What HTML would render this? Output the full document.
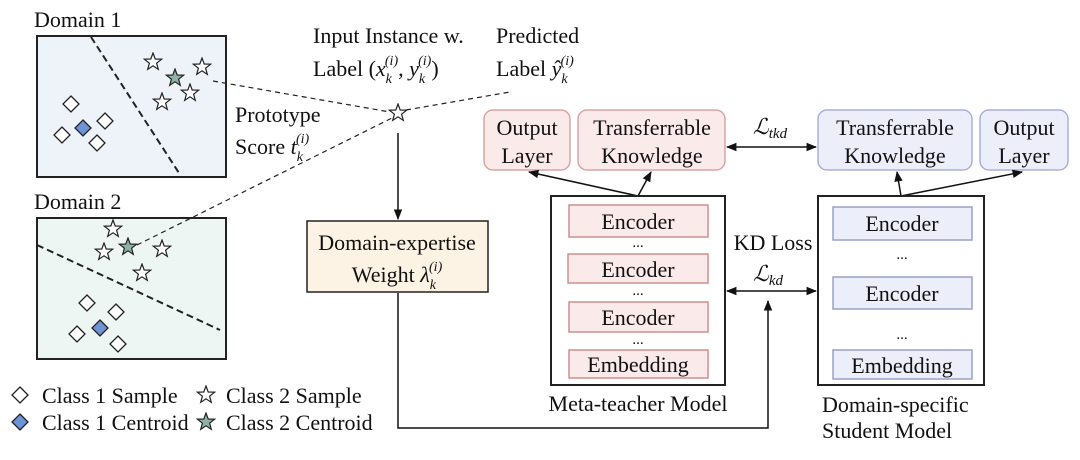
<!DOCTYPE html>
<html><head><meta charset="utf-8"><style>
html,body{margin:0;padding:0;background:#fff;}
svg text{font-family:"Liberation Serif",serif;fill:#111;}
</style></head><body>
<svg width="1080" height="455" viewBox="0 0 1080 455" xmlns="http://www.w3.org/2000/svg">
<defs>
<marker id="a" viewBox="0 0 10 10" refX="9" refY="5" markerWidth="7" markerHeight="7" orient="auto-start-reverse"><path d="M0,1 L10,5 L0,9 z" fill="#111"/></marker>
<symbol id="st" viewBox="-10 -10 20 20"><path d="M0,-9 L2.2,-3 L8.6,-2.8 L3.6,1.2 L5.3,7.4 L0,3.8 L-5.3,7.4 L-3.6,1.2 L-8.6,-2.8 L-2.2,-3 z" stroke="#222" stroke-width="1.2"/></symbol>
<symbol id="di" viewBox="-10 -10 20 20"><path d="M0,-8 L8,0 L0,8 L-8,0 z" stroke="#222" stroke-width="1.3"/></symbol>
</defs>
<text x="34" y="27" font-size="22">Domain 1</text>
<rect x="37" y="36" width="189" height="141" fill="#eef3fa" stroke="#222" stroke-width="2"/>
<line x1="91" y1="37" x2="179" y2="173" stroke="#222" stroke-width="2" stroke-dasharray="7,4"/>
<text x="34" y="209" font-size="22">Domain 2</text>
<rect x="37" y="218" width="189" height="141" fill="#eef6f3" stroke="#222" stroke-width="2"/>
<line x1="37" y1="245" x2="220" y2="330" stroke="#222" stroke-width="2" stroke-dasharray="7,4"/>
<g fill="#fff">
<use href="#st" x="143" y="52" width="20" height="20"/>
<use href="#st" x="192" y="57" width="20" height="20"/>
<use href="#st" x="180" y="83" width="20" height="20"/>
<use href="#st" x="152" y="92" width="20" height="20"/>
<use href="#di" x="61" y="94" width="20" height="20"/>
<use href="#di" x="95" y="111" width="20" height="20"/>
<use href="#di" x="52" y="125" width="20" height="20"/>
<use href="#di" x="87" y="133" width="20" height="20"/>
<use href="#st" x="103" y="219" width="20" height="20"/>
<use href="#st" x="94" y="242" width="20" height="20"/>
<use href="#st" x="152" y="239" width="20" height="20"/>
<use href="#st" x="132" y="263" width="20" height="20"/>
<use href="#di" x="77" y="293" width="20" height="20"/>
<use href="#di" x="106" y="302" width="20" height="20"/>
<use href="#di" x="67" y="324" width="20" height="20"/>
<use href="#di" x="108" y="334" width="20" height="20"/>
<use href="#st" x="388" y="103" width="20" height="20"/>
<use href="#di" x="10" y="385" width="20" height="20"/>
<use href="#st" x="196" y="385" width="20" height="20"/>
</g>
<g fill="#8fb3a3"><use href="#st" x="165" y="68" width="20" height="20"/><use href="#st" x="118" y="237" width="20" height="20"/><use href="#st" x="196" y="412" width="20" height="20"/></g>
<g fill="#6d95d6"><use href="#di" x="73" y="118" width="20" height="20"/><use href="#di" x="90" y="318" width="20" height="20"/><use href="#di" x="10" y="412" width="20" height="20"/></g>
<g stroke="#222" stroke-width="1.2" stroke-dasharray="5,4" fill="none">
<line x1="213" y1="81" x2="390" y2="112"/>
<line x1="137" y1="245" x2="392" y2="118"/>
<line x1="406" y1="110" x2="510" y2="92"/>
</g>
<text x="313" y="43" font-size="22">Input Instance w.</text>
<text x="313" y="76" font-size="22">Label (<tspan font-style="italic">x</tspan><tspan font-size="14" font-style="italic" dy="7">k</tspan><tspan font-size="14" font-style="italic" dx="-7" dy="-18">(i)</tspan><tspan dy="11">, </tspan><tspan font-style="italic">y</tspan><tspan font-size="14" font-style="italic" dy="7">k</tspan><tspan font-size="14" font-style="italic" dx="-7" dy="-18">(i)</tspan><tspan dy="11">)</tspan></text>
<text x="496" y="43" font-size="22">Predicted</text>
<text x="496" y="76" font-size="22">Label <tspan font-style="italic">ŷ</tspan><tspan font-size="14" font-style="italic" dy="7">k</tspan><tspan font-size="14" font-style="italic" dx="-7" dy="-18">(i)</tspan></text>
<text x="235" y="122" font-size="22">Prototype</text>
<text x="235" y="154" font-size="22">Score <tspan font-style="italic">t</tspan><tspan font-size="14" font-style="italic" dy="7">k</tspan><tspan font-size="14" font-style="italic" dx="-7" dy="-18">(i)</tspan></text>
<text x="42" y="403" font-size="22">Class 1 Sample</text>
<text x="226" y="403" font-size="22">Class 2 Sample</text>
<text x="42" y="430" font-size="22">Class 1 Centroid</text>
<text x="226" y="430" font-size="22">Class 2 Centroid</text>
<line x1="398" y1="133" x2="398" y2="219" stroke="#111" stroke-width="1.5" marker-end="url(#a)"/>
<rect x="307" y="221" width="181" height="71" fill="#fcf3e4" stroke="#222" stroke-width="1.5"/>
<text x="397" y="250" font-size="22" text-anchor="middle">Domain-expertise</text>
<text x="397" y="282" font-size="22" text-anchor="middle">Weight <tspan font-style="italic">λ</tspan><tspan font-size="14" font-style="italic" dy="7">k</tspan><tspan font-size="14" font-style="italic" dx="-7" dy="-18">(i)</tspan></text>
<polyline points="398,293 398,428 768,428 768,301" fill="none" stroke="#111" stroke-width="1.5" marker-end="url(#a)"/>
<rect x="484" y="110" width="86" height="60" rx="9" fill="#fbeaea" stroke="#d9a5a5" stroke-width="1.5"/>
<text x="527" y="135" font-size="22" text-anchor="middle">Output</text>
<text x="527" y="163" font-size="22" text-anchor="middle">Layer</text>
<rect x="578" y="110" width="147" height="60" rx="9" fill="#fbeaea" stroke="#d9a5a5" stroke-width="1.5"/>
<text x="652" y="135" font-size="22" text-anchor="middle">Transferrable</text>
<text x="652" y="163" font-size="22" text-anchor="middle">Knowledge</text>
<rect x="818" y="110" width="154" height="60" rx="9" fill="#eceef9" stroke="#aab0d8" stroke-width="1.5"/>
<text x="895" y="135" font-size="22" text-anchor="middle">Transferrable</text>
<text x="895" y="163" font-size="22" text-anchor="middle">Knowledge</text>
<rect x="980" y="110" width="88" height="60" rx="9" fill="#eceef9" stroke="#aab0d8" stroke-width="1.5"/>
<text x="1024" y="135" font-size="22" text-anchor="middle">Output</text>
<text x="1024" y="163" font-size="22" text-anchor="middle">Layer</text>
<text x="770" y="134" font-size="22" font-style="italic" text-anchor="middle">ℒ<tspan font-size="15" dy="4">tkd</tspan></text>
<line x1="727" y1="147" x2="816" y2="147" stroke="#111" stroke-width="1.5" marker-start="url(#a)" marker-end="url(#a)"/>
<g stroke="#111" stroke-width="1.5" marker-end="url(#a)">
<line x1="638" y1="196" x2="529" y2="172"/>
<line x1="638" y1="196" x2="651" y2="172"/>
<line x1="901" y1="196" x2="897" y2="172"/>
<line x1="901" y1="196" x2="1022" y2="172"/>
</g>
<rect x="551" y="196" width="174" height="189" fill="#fff" stroke="#222" stroke-width="2"/>
<g fill="#fbeaea" stroke="#cf8f8f" stroke-width="1.5">
<rect x="569" y="205" width="139" height="32"/><rect x="568" y="254" width="140" height="29"/><rect x="569" y="302" width="139" height="30"/><rect x="569" y="350" width="139" height="28"/>
</g>
<text x="638" y="229" font-size="22" text-anchor="middle">Encoder</text>
<text x="638" y="247" font-size="15" text-anchor="middle">...</text>
<text x="638" y="277" font-size="22" text-anchor="middle">Encoder</text>
<text x="638" y="295" font-size="15" text-anchor="middle">...</text>
<text x="638" y="325" font-size="22" text-anchor="middle">Encoder</text>
<text x="638" y="344" font-size="15" text-anchor="middle">...</text>
<text x="638" y="372" font-size="22" text-anchor="middle">Embedding</text>
<text x="638" y="411" font-size="22" text-anchor="middle">Meta-teacher Model</text>
<text x="773" y="250" font-size="22" text-anchor="middle">KD Loss</text>
<text x="768" y="281" font-size="22" font-style="italic" text-anchor="middle">ℒ<tspan font-size="15" dy="4">kd</tspan></text>
<line x1="727" y1="291" x2="816" y2="291" stroke="#111" stroke-width="1.5" marker-start="url(#a)" marker-end="url(#a)"/>
<rect x="818" y="196" width="166" height="189" fill="#fff" stroke="#222" stroke-width="2"/>
<g fill="#eceef9" stroke="#9aa0c8" stroke-width="1.5">
<rect x="833" y="207" width="139" height="33"/><rect x="833" y="277" width="139" height="32"/><rect x="833" y="350" width="139" height="29"/>
</g>
<text x="902" y="231" font-size="22" text-anchor="middle">Encoder</text>
<text x="902" y="259" font-size="15" text-anchor="middle">...</text>
<text x="902" y="301" font-size="22" text-anchor="middle">Encoder</text>
<text x="902" y="339" font-size="15" text-anchor="middle">...</text>
<text x="902" y="373" font-size="22" text-anchor="middle">Embedding</text>
<text x="822" y="412" font-size="22">Domain-specific</text>
<text x="822" y="438" font-size="22">Student Model</text>
</svg>
</body></html>
